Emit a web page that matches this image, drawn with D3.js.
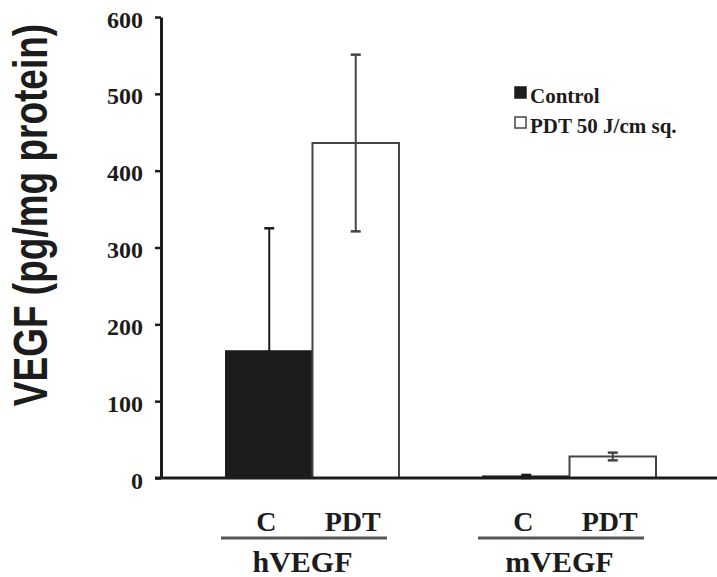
<!DOCTYPE html>
<html>
<head>
<meta charset="utf-8">
<script src="https://cdn.jsdelivr.net/npm/d3@7"></script>
<style>
  body { margin: 0; background: #fff; }
  svg { display: block; }
</style>
</head>
<body>
<div id="chart"></div>
<script>
// data
const groups = ["hVEGF", "mVEGF"];
const treatments = ["C", "PDT"];
const values = [[165, 436], [2, 28]];
const errors = [[160, 115], [2, 5]];
const yTicks = [0, 100, 200, 300, 400, 500, 600];
const legendLabels = ["Control", "PDT 50 J/cm sq."];

const width = 717, height = 577;
const serif = '"Liberation Serif", "Times New Roman", serif';
const ink = "#1c1c1c", lineCol = "#444";

const svg = d3.select("#chart").append("svg")
    .attr("width", width)
    .attr("height", height);

const y = d3.scaleLinear().domain([0, 600]).range([478, 17]);

const x0 = d3.scaleBand().domain(groups).range([226, 656]).paddingInner(0.327).paddingOuter(0);
const x1 = d3.scaleBand().domain(treatments).range([0, x0.bandwidth()]).padding(0);

// y axis
const yAxis = svg.append("g")
    .attr("transform", "translate(161,0)")
    .call(d3.axisLeft(y).tickValues(yTicks).tickSize(6).tickSizeOuter(0).tickPadding(12));
yAxis.select(".domain").attr("stroke", ink).attr("stroke-width", 3);
yAxis.selectAll(".tick line").attr("stroke", ink).attr("stroke-width", 2.5);
yAxis.selectAll(".tick text")
    .attr("dy", "0.42em")
    .style("font-family", serif)
    .style("font-weight", "bold")
    .style("font-size", "24px")
    .attr("fill", ink);

// bars
const g = svg.append("g").selectAll("g")
    .data(groups)
    .join("g")
    .attr("transform", d => "translate(" + x0(d) + ",0)");

g.each(function (grp, gi) {
    const sel = d3.select(this);
    treatments.forEach((t, ti) => {
        const v = values[gi][ti], e = errors[gi][ti];
        const bx = x1(t), bw = x1.bandwidth(), cx = bx + bw / 2;
        sel.append("rect")
            .attr("x", bx)
            .attr("y", y(v))
            .attr("width", bw)
            .attr("height", y(0) - y(v))
            .attr("fill", ti === 0 ? ink : "#fff")
            .attr("stroke", ti === 0 ? ink : lineCol)
            .attr("stroke-width", 2);
        // error bar
        const col = ti === 0 ? ink : lineCol;
        sel.append("line")
            .attr("x1", cx).attr("x2", cx)
            .attr("y1", y(v - e)).attr("y2", y(v + e))
            .attr("stroke", col).attr("stroke-width", 2);
        [v - e, v + e].forEach(val => {
            sel.append("line")
                .attr("x1", cx - 5).attr("x2", cx + 5)
                .attr("y1", y(val)).attr("y2", y(val))
                .attr("stroke", col).attr("stroke-width", 2.5);
        });
        // category label
        sel.append("text")
            .attr("x", cx - 3)
            .attr("y", 531)
            .attr("text-anchor", "middle")
            .style("font-family", serif)
            .style("font-weight", "bold")
            .style("font-size", "28px")
            .attr("fill", ink)
            .text(t);
    });
    // group underline + label
    sel.append("line")
        .attr("x1", -5).attr("x2", x0.bandwidth() - 12)
        .attr("y1", 538).attr("y2", 538)
        .attr("stroke", "#555").attr("stroke-width", 3);
    sel.append("text")
        .attr("x", x0.bandwidth() / 2 - 10)
        .attr("y", 572)
        .attr("text-anchor", "middle")
        .style("font-family", serif)
        .style("font-weight", "bold")
        .style("font-size", "30px")
        .attr("fill", ink)
        .text(grp);
});

// x baseline
svg.append("line")
    .attr("x1", 155).attr("x2", width)
    .attr("y1", y(0)).attr("y2", y(0))
    .attr("stroke", ink).attr("stroke-width", 3);

// y title
svg.append("text")
    .attr("transform", "translate(47,215) rotate(-90) scale(1,1.3)")
    .attr("text-anchor", "middle")
    .style("font-family", '"Liberation Sans", Arial, sans-serif')
    .style("font-weight", "bold")
    .style("font-size", "37px")
    .attr("fill", ink)
    .text("VEGF (pg/mg protein)");

// legend
const legend = svg.append("g").selectAll("g")
    .data(legendLabels)
    .join("g")
    .attr("transform", (d, i) => "translate(515," + (87 + i * 30) + ")");
legend.append("rect")
    .attr("x", 0).attr("y", 0)
    .attr("width", 11).attr("height", 11)
    .attr("fill", (d, i) => i === 0 ? ink : "#fff")
    .attr("stroke", (d, i) => i === 0 ? ink : lineCol)
    .attr("stroke-width", 1.5);
legend.append("text")
    .attr("x", 15)
    .attr("y", 16)
    .style("font-family", serif)
    .style("font-weight", "bold")
    .style("font-size", "21px")
    .attr("fill", ink)
    .text(d => d);
</script>
</body>
</html>
